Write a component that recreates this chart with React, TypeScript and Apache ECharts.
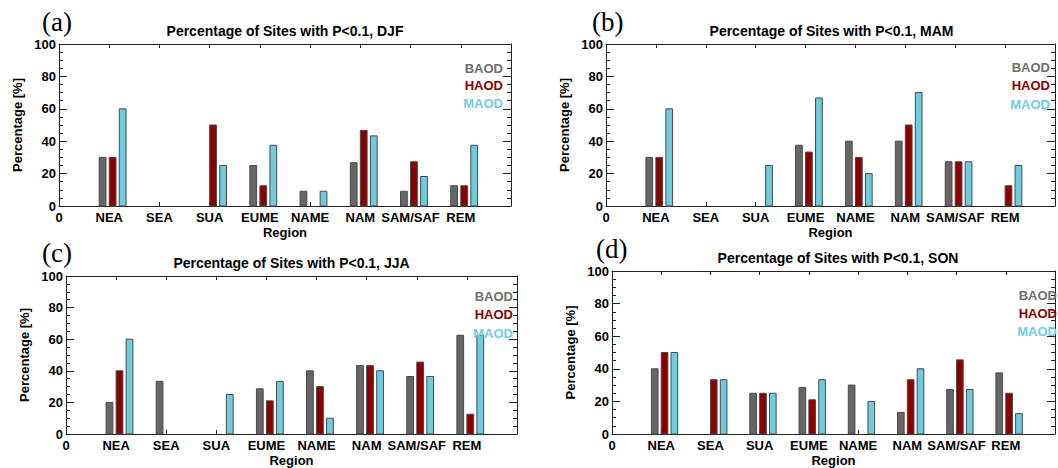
import React, { useEffect, useRef } from "react";
import * as echarts from "echarts";

// ---- data ----
const REGIONS = ["NEA", "SEA", "SUA", "EUME", "NAME", "NAM", "SAM/SAF", "REM"];
const X_TICK_LABELS = ["0", ...REGIONS, ""];
const Y_TICKS = [0, 20, 40, 60, 80, 100];
const SERIES_NAMES = ["BAOD", "HAOD", "MAOD"];
const SEASONS = ["DJF", "MAM", "JJA", "SON"];
const PANEL_LABELS = ["(a)", "(b)", "(c)", "(d)"];

const DJF_BAOD = [30, null, null, 25, 9.1, 26.7, 9.1, 12.5];
const DJF_HAOD = [30, null, 50, 12.5, null, 46.7, 27.3, 12.5];
const DJF_MAOD = [60, null, 25, 37.5, 9.1, 43.3, 18.2, 37.5];

const MAM_BAOD = [30, null, null, 37.5, 40, 40, 27.3, null];
const MAM_HAOD = [30, null, null, 33.3, 30, 50, 27.3, 12.5];
const MAM_MAOD = [60, null, 25, 66.7, 20, 70, 27.3, 25];

const JJA_BAOD = [20, 33.3, null, 28.6, 40, 43.3, 36.4, 62.5];
const JJA_HAOD = [40, null, null, 21, 30, 43.3, 45.5, 12.5];
const JJA_MAOD = [60, null, 25, 33.3, 10, 40, 36.4, 62.5];

const SON_BAOD = [40, null, 25, 28.6, 30, 13.3, 27.3, 37.5];
const SON_HAOD = [50, 33.3, 25, 21, null, 33.3, 45.5, 25];
const SON_MAOD = [50, 33.3, 25, 33.3, 20, 40, 27.3, 12.5];

const SEASON_DATA = [
  [DJF_BAOD, DJF_HAOD, DJF_MAOD],
  [MAM_BAOD, MAM_HAOD, MAM_MAOD],
  [JJA_BAOD, JJA_HAOD, JJA_MAOD],
  [SON_BAOD, SON_HAOD, SON_MAOD],
];

// ---- styling / layout ----
const BAR_COLORS = ["#666666", "#8b0000", "#6fcbdd"];
const LEGEND_COLORS = ["#6e6e6e", "#8b0000", "#72cde0"];
const BAR_OFFSETS = [-0.2, 0, 0.2];
const BAR_W = 0.135;
const FONT = '"Liberation Sans", Arial, Helvetica, sans-serif';
const AXIS_COLOR = "#222";

const PANELS = [
  { left: 59, top: 44, width: 452, height: 162, legendRight: 503, legendY: [68, 85.5, 103], label: [42, 22] },
  { left: 606, top: 44, width: 451, height: 162, legendRight: 1050, legendY: [67, 85.5, 104], label: [592, 22] },
  { left: 66, top: 276, width: 451, height: 158, legendRight: 513, legendY: [296, 314.5, 333], label: [42, 253] },
  { left: 612, top: 271, width: 452, height: 163, legendRight: 1057, legendY: [295, 313, 331], label: [596, 249] },
];

function buildOption() {
  const grid: any[] = [];
  const xAxis: any[] = [];
  const yAxis: any[] = [];
  const series: any[] = [];
  const graphic: any[] = [];

  PANELS.forEach((p, i) => {
    grid.push({ left: p.left, top: p.top, width: p.width, height: p.height, containLabel: false });
    const lineStyle = { color: AXIS_COLOR, width: 1 };
    xAxis.push({
      type: "value",
      gridIndex: i,
      position: "bottom",
      min: 0,
      max: 9,
      interval: 1,
      axisLine: { show: true, onZero: false, lineStyle },
      axisTick: { show: true, inside: true, length: 4, lineStyle },
      splitLine: { show: false },
      axisLabel: {
        show: true,
        margin: 5,
        color: "#000",
        fontFamily: FONT,
        fontWeight: "bold",
        fontSize: 13,
        formatter: (v: number) => X_TICK_LABELS[Math.round(v)] ?? "",
      },
      name: "Region",
      nameLocation: "middle",
      nameGap: 20,
      nameTextStyle: { color: "#000", fontFamily: FONT, fontWeight: "bold", fontSize: 13 },
    });
    xAxis.push({
      type: "value",
      gridIndex: i,
      position: "top",
      min: 0,
      max: 9,
      interval: 1,
      axisLine: { show: true, onZero: false, lineStyle },
      axisTick: { show: true, inside: true, length: 4, lineStyle },
      splitLine: { show: false },
      axisLabel: { show: false },
    });
    yAxis.push({
      type: "value",
      gridIndex: i,
      position: "left",
      min: Y_TICKS[0],
      max: Y_TICKS[Y_TICKS.length - 1],
      interval: 20,
      axisLine: { show: true, onZero: false, lineStyle },
      axisTick: { show: true, inside: true, length: 8, lineStyle },
      minorTick: { show: true, splitNumber: 4, length: 4, lineStyle },
      splitLine: { show: false },
      axisLabel: {
        show: true,
        margin: 3,
        color: "#000",
        fontFamily: FONT,
        fontWeight: "bold",
        fontSize: 13,
      },
      name: "Percentage [%]",
      nameLocation: "middle",
      nameGap: 35,
      nameTextStyle: { color: "#000", fontFamily: FONT, fontWeight: "bold", fontSize: 13 },
    });
    yAxis.push({
      type: "value",
      gridIndex: i,
      position: "right",
      min: Y_TICKS[0],
      max: Y_TICKS[Y_TICKS.length - 1],
      interval: 20,
      axisLine: { show: true, onZero: false, lineStyle },
      axisTick: { show: true, inside: true, length: 8, lineStyle },
      minorTick: { show: true, splitNumber: 4, length: 4, lineStyle },
      splitLine: { show: false },
      axisLabel: { show: false },
    });

    SEASON_DATA[i].forEach((vals, s) => {
      const off = BAR_OFFSETS[s];
      const color = BAR_COLORS[s];
      series.push({
        type: "custom",
        name: SERIES_NAMES[s],
        xAxisIndex: 2 * i,
        yAxisIndex: 2 * i,
        encode: { x: 0, y: 1 },
        data: vals
          .map((v, k) => [k + 1, v])
          .filter((d) => d[1] !== null && d[1] !== undefined),
        renderItem: (params: any, api: any) => {
          const x = api.value(0);
          const v = api.value(1);
          const p0 = api.coord([x + off, 0]);
          const p1 = api.coord([x + off + BAR_W, v]);
          return {
            type: "rect",
            shape: { x: p0[0], y: p1[1], width: p1[0] - p0[0], height: p0[1] - p1[1] },
            style: { fill: color, stroke: "#4a4a4a", lineWidth: 1 },
          };
        },
      });
    });

    // title
    graphic.push({
      type: "text",
      x: p.left + p.width / 2,
      y: p.top - 13,
      style: {
        text: `Percentage of Sites with P<0.1, ${SEASONS[i]}`,
        fill: "#000",
        font: `bold 14px ${FONT}`,
        textAlign: "center",
        textVerticalAlign: "middle",
      },
    });
    // panel label
    graphic.push({
      type: "text",
      x: p.label[0],
      y: p.label[1],
      style: {
        text: PANEL_LABELS[i],
        fill: "#000",
        font: `27px "Liberation Serif", "Times New Roman", serif`,
        textAlign: "left",
        textVerticalAlign: "middle",
      },
    });
    // legend
    SERIES_NAMES.forEach((n, s) => {
      graphic.push({
        type: "text",
        x: p.legendRight,
        y: p.legendY[s],
        z: 10,
        style: {
          text: n,
          fill: LEGEND_COLORS[s],
          font: `bold 13px ${FONT}`,
          textAlign: "right",
          textVerticalAlign: "middle",
        },
      });
    });
  });

  return {
    animation: false,
    backgroundColor: "#ffffff",
    grid,
    xAxis,
    yAxis,
    series,
    graphic,
  };
}

export default function App() {
  const ref = useRef<HTMLDivElement>(null);
  useEffect(() => {
    if (!ref.current) return;
    const chart = echarts.init(ref.current, undefined, { renderer: "svg" });
    chart.setOption(buildOption() as any);
    return () => chart.dispose();
  }, []);
  return (
    <div
      ref={ref}
      style={{ position: "fixed", left: 0, top: 0, width: 1058, height: 468, background: "#fff" }}
    />
  );
}
